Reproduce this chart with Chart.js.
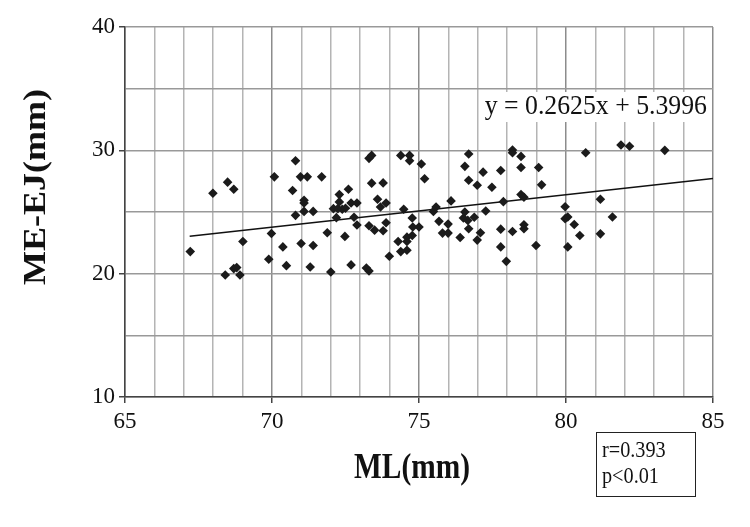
<!DOCTYPE html>
<html>
<head>
<meta charset="utf-8">
<script src="https://cdn.jsdelivr.net/npm/chart.js@4"></script>
<style>
  html, body { margin: 0; padding: 0; background: #fff; }
  #wrap { width: 750px; height: 527px; position: relative; }
</style>
</head>
<body>
<div id="wrap"><canvas id="scatter" width="750" height="527"></canvas></div>
<script>
// ML (mm) values
const mlValues = [
  67.22, 67.99, 68.49, 68.70, 68.41, 68.70, 68.80, 68.91, 69.01, 69.89,
  69.98, 70.08, 70.37, 70.49, 70.70, 70.80, 70.80, 70.97, 70.99, 71.09,
  71.09, 71.09, 71.20, 71.30, 71.40, 71.40, 71.69, 71.88, 72.00, 72.09,
  72.19, 72.24, 72.29, 72.29, 72.39, 72.48, 72.50, 72.60, 72.69, 72.69,
  72.79, 72.89, 72.89, 73.21, 73.30, 73.30, 73.30, 73.39, 73.39, 73.49,
  73.59, 73.69, 73.78, 73.78, 73.88, 73.88, 73.99, 74.29, 74.38, 74.38,
  74.48, 74.59, 74.59, 74.59, 74.68, 74.68, 74.77, 74.77, 74.79, 75.00,
  75.08, 75.19, 75.49, 75.58, 75.68, 75.80, 75.99, 75.99, 76.09, 76.40,
  76.51, 76.56, 76.56, 76.66, 76.69, 76.69, 76.69, 76.88, 76.98, 76.98,
  77.09, 77.18, 77.27, 77.48, 77.78, 77.78, 77.78, 77.87, 77.97, 78.18,
  78.18, 78.18, 78.47, 78.47, 78.47, 78.57, 78.57, 78.57, 78.98, 79.07,
  79.17, 79.97, 79.97, 80.06, 80.06, 80.28, 80.47, 80.67, 81.17, 81.17,
  81.58, 81.87, 82.16, 83.36
];
// ME-EJ (mm) values, same order
const meejValues = [
  21.79, 26.52, 27.42, 26.85, 19.89, 20.41, 20.49, 19.89, 22.61, 21.17,
  23.26, 27.85, 22.17, 20.65, 26.74, 29.16, 24.73, 27.85, 22.45, 25.95,
  25.73, 25.05, 27.85, 20.54, 25.05, 22.28, 27.85, 23.32, 20.14, 25.27,
  24.54, 25.27, 26.41, 25.82, 25.22, 23.02, 25.30, 26.85, 20.71, 25.73,
  24.57, 25.73, 23.94, 20.46, 20.22, 23.89, 29.35, 29.59, 27.34, 23.53,
  26.03, 25.41, 27.36, 23.48, 25.73, 24.13, 21.41, 22.61, 29.59, 21.79,
  25.22, 21.90, 22.61, 22.96, 29.59, 29.16, 24.51, 23.10, 23.78, 23.78,
  28.89, 27.69, 25.05, 25.41, 24.24, 23.29, 23.29, 24.02, 25.90, 22.93,
  24.51, 28.70, 25.00, 24.32, 29.70, 27.58, 23.64, 24.57, 22.72, 27.17,
  23.32, 28.23, 25.08, 27.01, 28.37, 23.61, 22.17, 25.84, 21.00, 30.03,
  29.81, 23.42, 29.51, 28.61, 26.41, 26.20, 23.97, 23.64, 22.28, 28.61,
  27.20, 25.43, 24.46, 24.59, 22.17, 23.99, 23.10, 29.81, 26.03, 23.23,
  24.59, 30.43, 30.33, 30.00
];
// trend line end points
const trendX = [67.2, 85];
const trendY = [23.04, 27.71];

const xTitle = 'ML(mm)';
const yTitle = 'ME-EJ(mm)';
const equation = 'y = 0.2625x + 5.3996';
const statLines = ['r=0.393', 'p<0.01'];

const points = mlValues.map((x, i) => ({ x: x, y: meejValues[i] }));
const trend = trendX.map((x, i) => ({ x: x, y: trendY[i] }));

const serif = '"Liberation Serif", "Times New Roman", serif';

// the source picture is a bit squeezed sideways, so the text is too
function squeezedText(ctx, text, x, y, sx) {
  ctx.save();
  ctx.translate(x, y);
  ctx.scale(sx, 1);
  ctx.fillText(text, 0, 0);
  ctx.restore();
}

// titles, equation and the r / p box
const annotations = {
  id: 'annotations',
  afterDraw(chart) {
    const ctx = chart.ctx;
    ctx.save();
    ctx.fillStyle = '#111';
    ctx.textBaseline = 'middle';

    ctx.font = 'bold 35px ' + serif;
    ctx.textAlign = 'center';
    squeezedText(ctx, xTitle, 412, 469, 0.84);

    ctx.save();
    ctx.translate(37, 187);
    ctx.rotate(-Math.PI / 2);
    ctx.scale(1, 0.86);
    ctx.font = 'bold 36px ' + serif;
    ctx.fillText(yTitle, 0, 0);
    ctx.restore();

    ctx.font = '28px ' + serif;
    ctx.textAlign = 'right';
    const w = ctx.measureText(equation).width * 0.92;
    ctx.fillStyle = '#fff';
    ctx.fillRect(707 - w - 4, 92, w + 6, 30);
    ctx.fillStyle = '#111';
    squeezedText(ctx, equation, 707, 107, 0.92);

    ctx.strokeStyle = '#222';
    ctx.lineWidth = 1;
    ctx.strokeRect(596.5, 432.5, 99, 64);
    ctx.font = '23px ' + serif;
    ctx.textAlign = 'left';
    squeezedText(ctx, statLines[0], 602, 451, 0.88);
    squeezedText(ctx, statLines[1], 602, 477, 0.88);
    ctx.restore();
  }
};

new Chart(document.getElementById('scatter'), {
  type: 'scatter',
  data: {
    datasets: [
      {
        data: points,
        pointStyle: 'rectRot',
        pointRadius: 4.8,
        pointBackgroundColor: '#1b1b1b',
        pointBorderColor: '#1b1b1b',
        pointBorderWidth: 0
      },
      {
        type: 'line',
        data: trend,
        borderColor: '#111',
        borderWidth: 1.5,
        pointRadius: 0,
        fill: false
      }
    ]
  },
  options: {
    responsive: false,
    animation: false,
    layout: { padding: { left: 0, right: 37, top: 27, bottom: 0 } },
    plugins: { legend: { display: false }, tooltip: { enabled: false } },
    scales: {
      x: {
        type: 'linear',
        min: 65,
        max: 85,
        afterFit(scale) { scale.height = 130; },
        border: { color: '#444', width: 1.5 },
        grid: {
          color: ctx => (ctx.tick && ctx.tick.value % 5 === 0) ? '#8c8c8c' : '#b4b4b4',
          lineWidth: 1.5,
          tickLength: 6,
          tickColor: ctx => (ctx.tick && ctx.tick.value % 5 === 0) ? '#444' : 'rgba(0,0,0,0)'
        },
        ticks: {
          stepSize: 1,
          autoSkip: false,
          maxRotation: 0,
          padding: 5,
          color: '#111',
          font: { family: serif, size: 23 },
          callback: v => (v % 5 === 0 ? v : '')
        }
      },
      y: {
        type: 'linear',
        min: 10,
        max: 40,
        afterFit(scale) { scale.width = 125; },
        border: { color: '#444', width: 1.5 },
        grid: {
          color: '#999',
          lineWidth: 1.5,
          tickLength: 6,
          tickColor: ctx => (ctx.tick && ctx.tick.value % 10 === 0) ? '#444' : 'rgba(0,0,0,0)'
        },
        ticks: {
          stepSize: 5,
          padding: 4,
          color: '#111',
          font: { family: serif, size: 23 },
          callback: v => (v % 10 === 0 ? v : '')
        }
      }
    }
  },
  plugins: [annotations]
});
</script>
</body>
</html>
